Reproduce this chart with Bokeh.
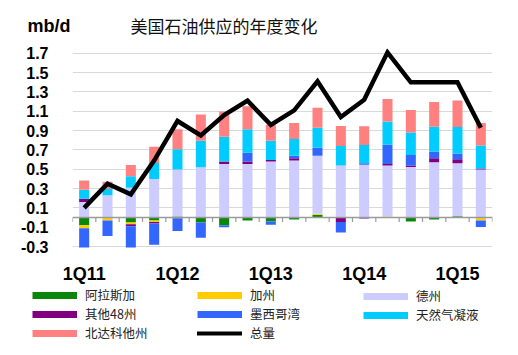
import numpy as np
from bokeh.plotting import figure
from bokeh.layouts import column
from bokeh.models import (ColumnDataSource, FixedTicker, Span, Legend, LegendItem, Range1d)
from bokeh.core.properties import value
from bokeh.embed import file_html
from bokeh.resources import INLINE

quarters = ["1Q11", "2Q11", "3Q11", "4Q11", "1Q12", "2Q12", "3Q12", "4Q12",
            "1Q13", "2Q13", "3Q13", "4Q13", "1Q14", "2Q14", "3Q14", "4Q14",
            "1Q15", "2Q15"]
tick_labels = ["1Q11", "1Q12", "1Q13", "1Q14", "1Q15"]
y_ticks = [-0.3, -0.1, 0.1, 0.3, 0.5, 0.7, 0.9, 1.1, 1.3, 1.5, 1.7]

alaska = [-0.08, 0.0, -0.05, -0.03, 0.01, -0.05, -0.08, -0.03, -0.04, -0.02,
          0.03, 0.0, 0.0, 0.0, -0.04, -0.02, 0.015, 0.0]
california = [-0.03, -0.03, -0.02, -0.015, 0.0, 0.0, 0.0, 0.0, 0.0, 0.0,
              0.01, -0.005, 0.0, 0.01, 0.0, 0.0, -0.005, -0.03]
texas = [0.16, 0.23, 0.31, 0.40, 0.487, 0.52, 0.555, 0.555, 0.58, 0.59,
         0.60, 0.54, 0.547, 0.53, 0.523, 0.573, 0.548, 0.497]
other48 = [0.035, 0.0, -0.02, -0.015, -0.01, 0.0, 0.025, 0.025, 0.015, 0.023,
           0.0, -0.04, -0.01, 0.015, 0.015, 0.04, 0.04, 0.01]
gom = [-0.20, -0.16, -0.22, -0.22, -0.13, -0.16, -0.02, 0.09, -0.035, 0.027,
       0.083, -0.11, 0.015, 0.20, 0.11, 0.07, 0.06, -0.067]
ngl = [0.093, 0.067, 0.117, 0.166, 0.21, 0.274, 0.257, 0.243, 0.20, 0.173,
       0.207, 0.20, 0.19, 0.24, 0.233, 0.257, 0.274, 0.24]
nd = [0.097, 0.073, 0.117, 0.167, 0.206, 0.273, 0.26, 0.24, 0.166, 0.167,
      0.207, 0.207, 0.194, 0.233, 0.233, 0.257, 0.276, 0.233]
total = [0.10, 0.35, 0.24, 0.59, 1.00, 0.85, 1.06, 1.21, 0.96, 1.11,
         1.41, 1.04, 1.22, 1.71, 1.40, 1.40, 1.40, 0.93]

names = ["阿拉斯加", "加州", "德州", "其他48州", "墨西哥湾", "天然气凝液", "北达科他州"]
colors = ["#0a870a", "#ffcc00", "#ccccff", "#800080", "#3366ff", "#00ccff", "#ff8080"]
series = [alaska, california, texas, other48, gom, ngl, nd]
title_text = "美国石油供应的年度变化"
unit_text = "mb/d"
total_name = "总量"

FONT = "Liberation Sans"
CJK = "Noto Sans CJK SC"
W = 518

# ---- header strip (unit + title) ----
h = figure(width=W, height=45, output_backend="svg", toolbar_location=None,
           x_range=Range1d(0, W), y_range=Range1d(45, 0),
           x_axis_location=None, y_axis_location=None, min_border=0, frame_align=False)
h.outline_line_color = None
h.grid.grid_line_color = None
h.text(x=[27], y=[25], text=[unit_text], text_font=value(FONT), text_font_style="bold",
       text_font_size="18px", text_baseline="middle", text_color="black")
h.text(x=[130], y=[25], text=[title_text], text_font=value(CJK),
       text_font_size="17px", text_baseline="middle", text_color="#111111")

# ---- main chart ----
p = figure(width=W, height=241, output_backend="svg", toolbar_location=None,
           x_range=Range1d(-0.5, len(quarters) - 0.5), y_range=Range1d(-0.32, 1.75),
           min_border_left=72, min_border_right=26, min_border_top=3, min_border_bottom=31,
           frame_align=False)
p.outline_line_color = None

x = np.arange(len(quarters))
pos_base = np.zeros(len(quarters))
neg_base = np.zeros(len(quarters))
for vals, c in zip(series, colors):
    v = np.array(vals, dtype=float)
    bottom = np.where(v >= 0, pos_base, neg_base)
    top = bottom + v
    pos_base = pos_base + np.clip(v, 0, None)
    neg_base = neg_base + np.clip(v, None, 0)
    src = ColumnDataSource(dict(x=x, bottom=bottom, top=top))
    p.vbar(x="x", bottom="bottom", top="top", width=0.43, source=src,
           fill_color=c, line_color=None)

# zero axis line and category ticks
p.add_layout(Span(location=0, dimension="width", line_color="#9a9a9a", line_width=1.5))
bx = np.arange(len(quarters) + 1) - 0.5
p.segment(x0=bx, y0=np.zeros(len(bx)), x1=bx, y1=np.full(len(bx), -0.045),
          line_color="#9a9a9a", line_width=1.2)

p.line(x=x, y=total, line_color="black", line_width=4.5, line_join="miter")

# axes
p.yaxis.ticker = FixedTicker(ticks=y_ticks)
p.yaxis.major_label_overrides = {t: f"{t:.1f}" for t in y_ticks}
p.yaxis.axis_line_color = None
p.yaxis.major_tick_line_color = None
p.yaxis.minor_tick_line_color = None
p.yaxis.major_label_text_font = FONT
p.yaxis.major_label_text_font_style = "bold"
p.yaxis.major_label_text_font_size = "16px"
p.yaxis.major_label_text_color = "black"
p.yaxis.major_label_standoff = 18

xt = [quarters.index(t) for t in tick_labels]
p.xaxis.ticker = FixedTicker(ticks=xt)
p.xaxis.major_label_overrides = {i: quarters[i] for i in xt}
p.xaxis.axis_line_color = None
p.xaxis.major_tick_line_color = None
p.xaxis.minor_tick_line_color = None
p.xaxis.major_label_text_font = FONT
p.xaxis.major_label_text_font_style = "bold"
p.xaxis.major_label_text_font_size = "18px"
p.xaxis.major_label_text_color = "black"
p.xaxis.major_label_standoff = 9

p.xgrid.grid_line_color = None
p.ygrid.ticker = FixedTicker(ticks=[t for t in y_ticks if abs(t + 0.1) > 1e-9])
p.ygrid.grid_line_color = "#d9d9d9"
p.ygrid.grid_line_width = 1

# ---- legend strip ----
FH = 69
f = figure(width=W, height=FH, output_backend="svg", toolbar_location=None,
           x_range=Range1d(0, W), y_range=Range1d(0, FH),
           x_axis_location=None, y_axis_location=None, min_border=0, frame_align=False)
f.outline_line_color = None
f.grid.grid_line_color = None

leg_r = []
for nm, c in zip(names, colors):
    r = f.line(x=[np.nan], y=[np.nan], line_color=c, line_width=7)
    leg_r.append((nm, r))
rt = f.line(x=[np.nan], y=[np.nan], line_color="black", line_width=4, line_cap="round")
leg_r.append((total_name, rt))

order = [[0, 3, 6], [1, 4, 7], [2, 5]]
xs = [32, 197, 363]
for col, lx in zip(order, xs):
    items = [LegendItem(label=leg_r[i][0], renderers=[leg_r[i][1]]) for i in col]
    lg = Legend(items=items, location=(lx, FH - 2 - 18 * len(col)), orientation="vertical",
                glyph_width=45, glyph_height=18, label_height=18, label_standoff=8,
                spacing=0, padding=0, margin=0, border_line_color=None,
                background_fill_alpha=0, label_text_font=CJK, label_text_font_size="12.5px",
                label_text_color="#222222")
    f.add_layout(lg, "center")

layout = column(h, p, f, spacing=0)
open("out.html", "w").write(file_html(layout, INLINE))
